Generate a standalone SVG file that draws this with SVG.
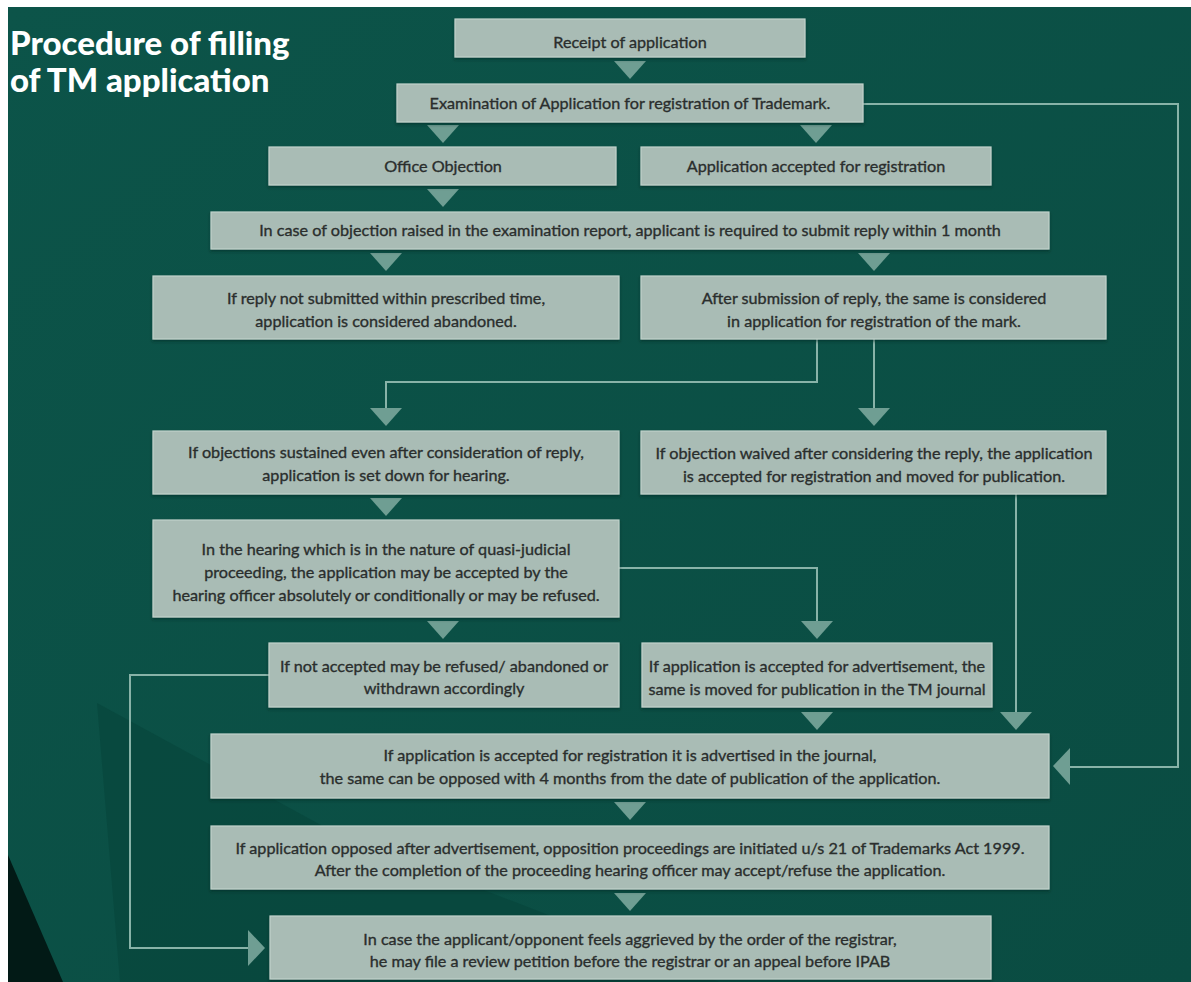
<svg xmlns="http://www.w3.org/2000/svg" width="1191" height="982" viewBox="0 0 1191 982">
  <defs>
    <linearGradient id="bg" x1="0" y1="0" x2="1" y2="1">
      <stop offset="0" stop-color="#0c5449"/>
      <stop offset="1" stop-color="#0a4c42"/>
    </linearGradient>
    <filter id="shadow" x="-5%" y="-20%" width="110%" height="150%">
      <feDropShadow dx="0" dy="2" stdDeviation="1.5" flood-color="#03261f" flood-opacity="0.55"/>
    </filter>
    <style>
      .box { fill: #a9bcb5; stroke: #c2d3cc; stroke-width: 1.2; filter: url(#shadow); }
      .lbl { font-family: Lato, "Noto Sans", "Liberation Sans", sans-serif; font-size: 16.2px; fill: #2a2e2d; text-anchor: middle; stroke: #2a2e2d; stroke-width: 0.35; }
      .title { font-family: Lato, "Noto Sans", "Liberation Sans", sans-serif; font-size: 33px; font-weight: 900; fill: #ffffff; }
      .line { fill: none; stroke: #88b3a8; stroke-width: 2; }
      .tri { fill: #6f9e93; }
    </style>
  </defs>

  <!-- page and backdrop -->
  <rect x="0" y="0" width="1191" height="982" fill="#ffffff"/>
  <rect x="8" y="7" width="1183" height="975" fill="url(#bg)"/>
  <polygon points="97,703 330,830 720,982 120,982" fill="#07443b" opacity="0.6"/>
  <polygon points="8,855 63,982 8,982" fill="#021a16"/>

  <!-- heading -->
  <text class="title" x="10" y="55">Procedure of filling</text>
  <text class="title" x="10" y="92">of TM application</text>

  <!-- connectors -->
  <g id="connectors">
    <polyline class="line" points="863,104 1178,104 1178,767 1070,767"/>
    <polygon class="tri" points="1070,748 1070,785 1053,766"/>
    <polyline class="line" points="269,675 130,675 130,948 248,948"/>
    <polygon class="tri" points="248,930 248,966 265,948"/>
    <polyline class="line" points="817,339 817,382 386,382 386,408"/>
    <polygon class="tri" points="370,408 402,408 386,426"/>
    <polyline class="line" points="874,339 874,408"/>
    <polygon class="tri" points="858,408 890,408 874,426"/>
    <polyline class="line" points="619,568 817,568 817,621"/>
    <polygon class="tri" points="801,621 833,621 817,639"/>
    <polyline class="line" points="1016,494 1016,712"/>
    <polygon class="tri" points="1000,712 1032,712 1016,730"/>
    <polygon class="tri" points="614,61 646,61 630,79"/>
    <polygon class="tri" points="427,125 459,125 443,143"/>
    <polygon class="tri" points="800,125 832,125 816,143"/>
    <polygon class="tri" points="427,189 459,189 443,207"/>
    <polygon class="tri" points="370,253 402,253 386,271"/>
    <polygon class="tri" points="858,253 890,253 874,271"/>
    <polygon class="tri" points="370,498 402,498 386,516"/>
    <polygon class="tri" points="427,621 459,621 443,639"/>
    <polygon class="tri" points="801,712 833,712 817,730"/>
    <polygon class="tri" points="614,802 646,802 630,820"/>
    <polygon class="tri" points="614,893 646,893 630,911"/>
  </g>

  <g id="receipt">
    <rect class="box" x="455" y="19" width="350" height="38"/>
    <text class="lbl" x="630" y="48">Receipt of application</text>
  </g>
  <g id="examination">
    <rect class="box" x="397" y="84" width="466" height="38"/>
    <text class="lbl" x="630" y="109">Examination of Application for registration of Trademark.</text>
  </g>
  <g id="office-objection">
    <rect class="box" x="269" y="147" width="347" height="38"/>
    <text class="lbl" x="443" y="172">Office Objection</text>
  </g>
  <g id="accepted">
    <rect class="box" x="641" y="147" width="350" height="38"/>
    <text class="lbl" x="816" y="172">Application accepted for registration</text>
  </g>
  <g id="reply-required">
    <rect class="box" x="211" y="212" width="838" height="37"/>
    <text class="lbl" x="630" y="236">In case of objection raised in the examination report, applicant is required to submit reply within 1 month</text>
  </g>
  <g id="abandoned">
    <rect class="box" x="153" y="276" width="466" height="63"/>
    <text class="lbl" x="386" y="304">If reply not submitted within prescribed time,</text>
    <text class="lbl" x="386" y="327">application is considered abandoned.</text>
  </g>
  <g id="reply-considered">
    <rect class="box" x="641" y="276" width="465" height="63"/>
    <text class="lbl" x="874" y="304">After submission of reply, the same is considered</text>
    <text class="lbl" x="874" y="327">in application for registration of the mark.</text>
  </g>
  <g id="set-for-hearing">
    <rect class="box" x="153" y="431" width="466" height="63"/>
    <text class="lbl" x="386" y="458">If objections sustained even after consideration of reply,</text>
    <text class="lbl" x="386" y="481">application is set down for hearing.</text>
  </g>
  <g id="objection-waived">
    <rect class="box" x="641" y="431" width="465" height="63"/>
    <text class="lbl" x="874" y="459">If objection waived after considering the reply, the application</text>
    <text class="lbl" x="874" y="482">is accepted for registration and moved for publication.</text>
  </g>
  <g id="hearing">
    <rect class="box" x="153" y="520" width="466" height="97"/>
    <text class="lbl" x="386" y="555">In the hearing which is in the nature of quasi-judicial</text>
    <text class="lbl" x="386" y="578">proceeding, the application may be accepted by the</text>
    <text class="lbl" x="386" y="601">hearing officer absolutely or conditionally or may be refused.</text>
  </g>
  <g id="refused">
    <rect class="box" x="269" y="643" width="350" height="64"/>
    <text class="lbl" x="444" y="672">If not accepted may be refused/ abandoned or</text>
    <text class="lbl" x="444" y="694">withdrawn accordingly</text>
  </g>
  <g id="advertisement">
    <rect class="box" x="642" y="643" width="350" height="64"/>
    <text class="lbl" x="817" y="672">If application is accepted for advertisement, the</text>
    <text class="lbl" x="817" y="695">same is moved for publication in the TM journal</text>
  </g>
  <g id="advertised">
    <rect class="box" x="211" y="734" width="838" height="64"/>
    <text class="lbl" x="630" y="761">If application is accepted for registration it is advertised in the journal,</text>
    <text class="lbl" x="630" y="784">the same can be opposed with 4 months from the date of publication of the application.</text>
  </g>
  <g id="opposition">
    <rect class="box" x="211" y="826" width="838" height="63"/>
    <text class="lbl" x="630" y="854">If application opposed after advertisement, opposition proceedings are initiated u/s 21 of Trademarks Act 1999.</text>
    <text class="lbl" x="630" y="876">After the completion of the proceeding hearing officer may accept/refuse the application.</text>
  </g>
  <g id="review">
    <rect class="box" x="270" y="916" width="721" height="63"/>
    <text class="lbl" x="630" y="945">In case the applicant/opponent feels aggrieved by the order of the registrar,</text>
    <text class="lbl" x="630" y="967">he may file a review petition before the registrar or an appeal before IPAB</text>
  </g>
</svg>
